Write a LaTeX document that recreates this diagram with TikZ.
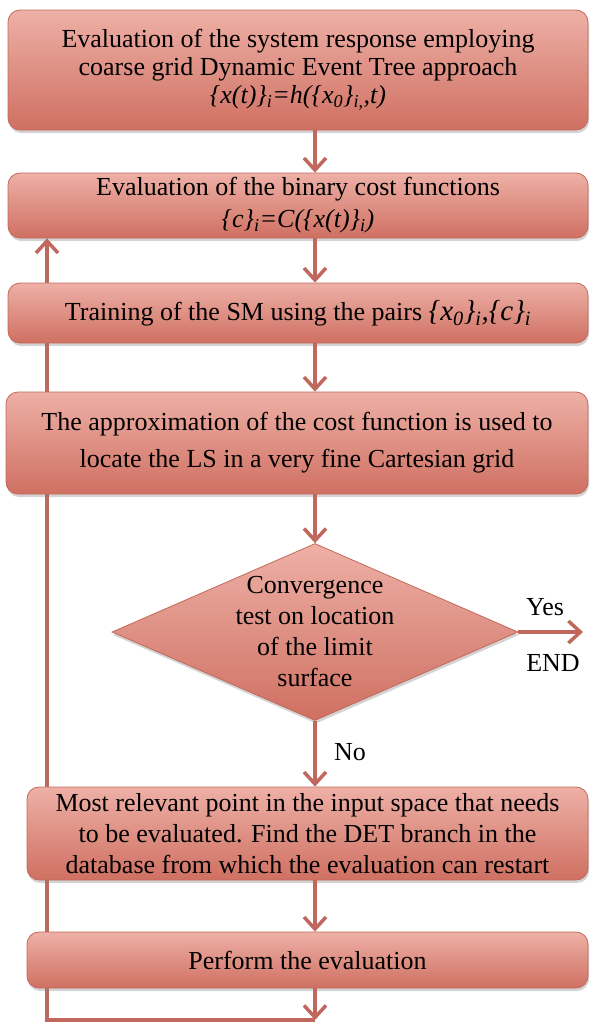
\documentclass[tikz,border=0pt]{standalone}
\usepackage{fontspec}
\setmainfont{Liberation Serif}
\usepackage{tikz}
\usetikzlibrary{arrows.meta,positioning,shapes.geometric,shadows,backgrounds}
\definecolor{boxtop}{RGB}{238,176,166}
\definecolor{boxbot}{RGB}{207,112,98}
\definecolor{boxline}{RGB}{196,104,92}
\definecolor{arrcol}{RGB}{192,104,94}
\newcommand{\sub}[1]{\textsubscript{\textit{#1}}}
\tikzset{
  stepbox/.style={draw=boxline, line width=0.8pt, rounded corners=12pt,
    top color=boxtop, bottom color=boxbot,
    drop shadow={opacity=0.35, shadow xshift=1pt, shadow yshift=-3pt},
    align=center, font=\fontsize{26}{30}\selectfont},
  testbox/.style={diamond, draw=boxline, line width=0.8pt,
    top color=boxtop, bottom color=boxbot,
    drop shadow={opacity=0.35, shadow xshift=1pt, shadow yshift=-3pt},
    inner sep=0pt},
  testtext/.style={align=center, inner sep=0pt,
    font=\fontsize{26}{31}\selectfont},
  lbl/.style={font=\fontsize{26}{28}\selectfont},
  arr/.style={-{Straight Barb[length=12pt,width=22pt,line width=3.5pt]},
    line width=3.5pt, draw=arrcol},
}
\begin{document}
\begin{tikzpicture}[x=1pt,y=-1pt]
  \useasboundingbox (0,0) rectangle (598,1026);

  % main chain
  \node[stepbox, minimum width=580pt, minimum height=120pt,
        font=\fontsize{26}{28}\selectfont] (b1) at (298,70)
    {Evaluation of the system response employing\\
     coarse grid Dynamic Event Tree approach\\
     \textit{\{x(t)\}\sub{i}=h(\{x\sub{0}\}\sub{i,},t)}};
  \node[stepbox, minimum width=580pt, minimum height=65pt, inner sep=1pt,
        font=\fontsize{26}{32}\selectfont] (b2) at (298,205.5)
    {Evaluation of the binary cost functions\\
     \textit{\{c\}\sub{i}=C(\{x(t)\}\sub{i})}};
  \node[stepbox, minimum width=580pt, minimum height=60pt] (b3) at (298,313)
    {Training of the SM using the pairs
     {\fontsize{29}{30}\selectfont\textit{\{x\sub{0}\}\sub{i},\{c\}\sub{i}}}};
  \node[stepbox, minimum width=582pt, minimum height=102pt,
        font=\fontsize{26}{37}\selectfont] (b4) at (297,443)
    {The approximation of the cost function is used to\\
     locate the LS in a very fine Cartesian grid};

  % convergence test
  \node[testbox, minimum width=406pt, minimum height=177pt] (test) at (315,632) {};
  \node[testtext] (testtxt) at (test) 
    {Convergence\\test on location\\of the limit\\surface};
  \coordinate (done) at (583,632);
  \node[lbl] (yes) at (545,607) {Yes};
  \node[lbl] (end) at (553,663) {END};

  \node[stepbox, minimum width=561pt, minimum height=93pt,
        font=\fontsize{26}{31}\selectfont] (b5) at (307.5,833.5)
    {Most relevant point in the input space that needs\\
     to be evaluated. Find the DET branch in the\\
     database from which the evaluation can restart};
  \node[lbl] (no) at (350,752) {No};
  \node[stepbox, minimum width=561pt, minimum height=56pt] (b6) at (307.5,960)
    {Perform the evaluation};

  % connectors
  \draw[arr] (b1.south -| test) -- (b2.north -| test);
  \draw[arr] (b2.south -| test) -- (b3.north -| test);
  \draw[arr] (b3.south -| test) -- (b4.north -| test);
  \draw[arr] (b4.south -| test) -- (test.north);
  \draw[arr] (test.east) -- (done);
  \draw[arr] (test.south) -- (b5.north -| test);
  \draw[arr] (b5.south -| test) -- (b6.north -| test);
  \coordinate (loop) at (47,1020);
  \coordinate (bot) at (315,1020);
  \draw[arr] (b6.south -| test) -- (bot);

  % return loop, behind the boxes
  \begin{pgfonlayer}{background}
    \draw[arr] (bot) -| (b2.south -| loop);
  \end{pgfonlayer}
\end{tikzpicture}
\end{document}
